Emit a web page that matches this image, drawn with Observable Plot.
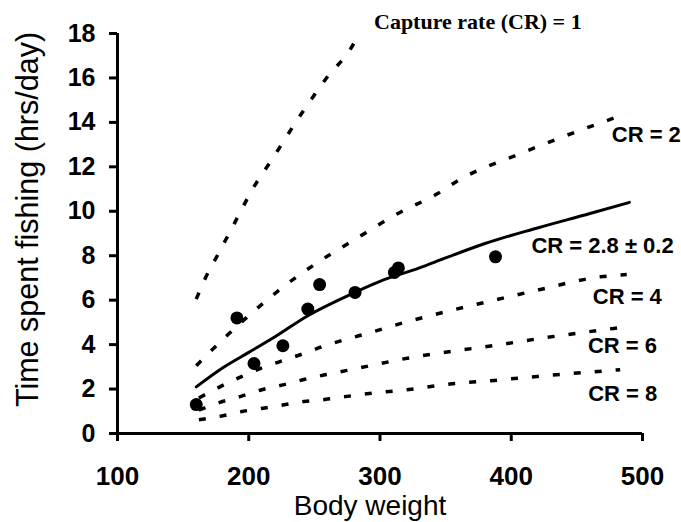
<!DOCTYPE html>
<html><head><meta charset="utf-8">
<script src="https://cdn.jsdelivr.net/npm/d3@7"></script>
<script src="https://cdn.jsdelivr.net/npm/@observablehq/plot@0.6"></script>
<style>html,body{margin:0;padding:0;background:#fff}#chart svg{display:block}</style>
</head><body><div id="chart"></div>
<script>
// Tick values
const xTicks = [100, 200, 300, 400, 500];
const yTicks = [0, 2, 4, 6, 8, 10, 12, 14, 16, 18];

// Observed points
const obsWeight = [160, 191, 204, 226, 245, 254, 281, 311, 314, 388];
const obsTime   = [1.3, 5.2, 3.15, 3.95, 5.6, 6.7, 6.35, 7.25, 7.45, 7.95];

// Model curves
const cr1Weight = [160, 167, 176, 185, 193, 201, 219, 238, 258, 280, 284];
const cr1Time   = [6.05, 7.0, 8.0, 9.0, 9.9, 10.8, 12.45, 14.2, 15.9, 17.55, 18];

const cr2Weight = [160, 185, 200, 222, 250, 280, 312, 344, 360, 407, 437, 488];
const cr2Time   = [3.05, 4.5, 5.3, 6.4, 7.6, 8.7, 9.85, 10.8, 11.4, 12.6, 13.3, 14.4];

const cr28Weight = [160, 180, 200, 220, 245, 270, 300, 330, 350, 380, 420, 460, 490];
const cr28Time   = [2.1, 2.95, 3.65, 4.35, 5.3, 6.05, 6.85, 7.45, 7.9, 8.55, 9.25, 9.9, 10.4];

const cr4Weight = [162, 178, 194, 210, 227, 242, 258, 275, 290, 322, 355, 387, 420, 468, 488];
const cr4Time   = [1.6, 2.1, 2.55, 2.95, 3.3, 3.6, 3.95, 4.25, 4.5, 5.05, 5.55, 6.0, 6.45, 7.05, 7.15];

const cr6Weight = [162, 178, 194, 210, 227, 242, 258, 275, 290, 322, 355, 387, 420, 482];
const cr6Time   = [1.05, 1.4, 1.67, 1.97, 2.2, 2.43, 2.64, 2.84, 3.02, 3.4, 3.7, 3.96, 4.26, 4.76];

const cr8Weight = [162, 178, 194, 211, 227, 242, 258, 275, 290, 322, 355, 387, 420, 483];
const cr8Time   = [0.62, 0.77, 0.98, 1.14, 1.29, 1.44, 1.53, 1.67, 1.79, 1.98, 2.24, 2.39, 2.57, 2.87];

const curveLabels = ["Capture rate (CR) = 1", "CR = 2", "CR = 2.8 ± 0.2", "CR = 4", "CR = 6", "CR = 8"];
const xTitle = "Body weight";
const yTitle = "Time spent fishing (hrs/day)";

const toRows = (ws, ts, name) => ws.map((w, i) => ({w, t: ts[i], name}));
const obs = toRows(obsWeight, obsTime, "obs");
const cr1 = toRows(cr1Weight, cr1Time, curveLabels[0]);
const cr2 = toRows(cr2Weight, cr2Time, curveLabels[1]);
const cr28 = toRows(cr28Weight, cr28Time, curveLabels[2]);
const cr4 = toRows(cr4Weight, cr4Time, curveLabels[3]);
const cr6 = toRows(cr6Weight, cr6Time, curveLabels[4]);
const cr8 = toRows(cr8Weight, cr8Time, curveLabels[5]);
const dashed = [...cr1, ...cr2, ...cr4, ...cr6, ...cr8];
const last = a => [a[a.length - 1]];

const sans = "'Liberation Sans', Arial, sans-serif";
const dash = {x: "w", y: "t", z: "name", stroke: "black", strokeWidth: 3.5, strokeDasharray: "7,14", strokeLinecap: "butt", curve: "monotone-x"};
const lab = (rows, dx, dy, extra = {}) => Plot.text(last(rows), {x: "w", y: "t", text: "name", textAnchor: "start", dx, dy, fontSize: 22, fontWeight: "bold", fontFamily: sans, fill: "black", ...extra});

const chart = Plot.plot({
  width: 681, height: 522,
  marginLeft: 117, marginRight: 39, marginTop: 33, marginBottom: 89,
  style: {fontFamily: sans, background: "white", color: "black", overflow: "visible"},
  x: {domain: [100, 500]},
  y: {domain: [0, 18]},
  marks: [
    Plot.axisX({ticks: xTicks, tickSize: 8, tickPadding: 25, strokeWidth: 3, fontSize: 26, fontWeight: "bold", label: null, tickFormat: d => String(d)}),
    Plot.axisY({ticks: yTicks, tickSize: 8, tickPadding: 14, strokeWidth: 3, fontSize: 25, fontWeight: "bold", label: null, tickFormat: d => String(d)}),
    Plot.ruleY([0], {strokeWidth: 3, stroke: "black"}),
    Plot.ruleX([100], {strokeWidth: 3, stroke: "black"}),
    Plot.line(dashed, dash),
    Plot.line(cr28, {x: "w", y: "t", stroke: "black", strokeWidth: 3, curve: "monotone-x"}),
    Plot.dot(obs, {x: "w", y: "t", r: 6.5, fill: "black"}),
    lab(cr1, 15, -12, {fontFamily: "'Liberation Serif', 'Times New Roman', serif"}),
    lab(cr2, -15, 21),
    lab(cr28, -98, 44),
    lab(cr4, -34, 22),
    lab(cr6, -31, 18),
    lab(cr8, -32, 24),
    Plot.text([xTitle], {frameAnchor: "bottom", text: d => d, textAnchor: "middle", lineAnchor: "middle", dx: -10, dy: 73, fontSize: 28, fontFamily: sans, fill: "black"}),
    Plot.text([yTitle], {frameAnchor: "left", text: d => d, textAnchor: "middle", lineAnchor: "middle", rotate: -90, dx: -89, dy: -14, fontSize: 30.5, fontFamily: sans, fill: "black"})
  ]
});
document.getElementById("chart").appendChild(chart);
</script></body></html>
